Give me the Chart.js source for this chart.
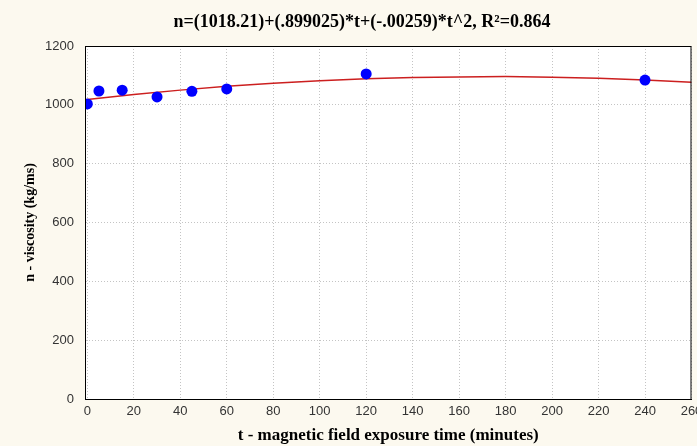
<!DOCTYPE html>
<html>
<head>
<meta charset="utf-8">
<script src="https://cdn.jsdelivr.net/npm/chart.js@4"></script>
<style>
  html, body { margin: 0; padding: 0; background: #fcf9ef; }
  #wrap { width: 697px; height: 446px; }
</style>
</head>
<body>
<div id="wrap"><canvas id="grafico" width="697" height="446"></canvas></div>
<script>
// measured points
const tempos = [0, 5, 15, 30, 45, 60, 120, 240];
const viscosidade = [1003, 1047, 1050, 1027, 1046, 1054, 1105, 1084];

// fitted curve
const curvaT = [0, 20, 40, 60, 80, 100, 120, 140, 160, 180, 200, 220, 240, 260];
const curvaN = [1018, 1035, 1050, 1063, 1073, 1082, 1089, 1093, 1095, 1096, 1094, 1090, 1084, 1077];

const xTicks = [0, 20, 40, 60, 80, 100, 120, 140, 160, 180, 200, 220, 240, 260];
const yTicks = [0, 200, 400, 600, 800, 1000, 1200];

const titulo = "n=(1018.21)+(.899025)*t+(-.00259)*t^2, R\u00B2=0.864";

const serif = "'Liberation Serif', 'Times New Roman', serif";
const sans = "'Liberation Sans', Arial, sans-serif";

const fundo = {
  id: "fundo",
  beforeDraw(chart) {
    const { ctx, chartArea: a } = chart;
    ctx.save();
    ctx.fillStyle = "#fcf9ef";
    ctx.fillRect(0, 0, chart.width, chart.height);
    ctx.fillStyle = "#ffffff";
    ctx.fillRect(a.left, a.top, a.right - a.left, a.bottom - a.top);
    ctx.restore();
  },
  afterDraw(chart) {
    const { ctx, chartArea: a } = chart;
    ctx.save();
    ctx.strokeStyle = "#000";
    ctx.lineWidth = 1;
    ctx.strokeRect(a.left + 0.5, a.top + 0.5, a.right - a.left - 1, a.bottom - a.top);
    // title
    ctx.fillStyle = "#000";
    ctx.font = "bold 18px " + serif;
    ctx.textAlign = "center";
    ctx.textBaseline = "middle";
    ctx.fillText(titulo, 362, 22);
    ctx.restore();
  }
};

new Chart(document.getElementById("grafico"), {
  type: "scatter",
  data: {
    datasets: [
      {
        data: tempos.map((t, i) => ({ x: t, y: viscosidade[i] })),
        backgroundColor: "#0000ff",
        borderWidth: 0,
        pointRadius: 5.5,
        pointHoverRadius: 5.5
      },
      {
        type: "line",
        data: curvaT.map((t, i) => ({ x: t, y: curvaN[i] })),
        borderColor: "#cc1f1f",
        borderWidth: 1.5,
        pointRadius: 0,
        tension: 0,
        fill: false
      }
    ]
  },
  options: {
    responsive: false,
    animation: false,
    layout: { padding: { top: 46, right: 5, bottom: 0, left: 0 } },
    plugins: {
      legend: { display: false },
      tooltip: { enabled: false }
    },
    scales: {
      x: {
        type: "linear",
        min: -1,
        max: 260,
        afterBuildTicks: s => { s.ticks = xTicks.map(v => ({ value: v })); },
        afterFit: s => { s.height = 47; s.paddingRight = 0; s.paddingLeft = 0; },
        grid: { color: "#c4c4c4", drawTicks: false },
        border: { color: "#000", dash: [1, 2] },
        ticks: { padding: 5, color: "#333", font: { family: sans, size: 13 }, maxRotation: 0, autoSkip: false, callback: v => String(v) },
        title: {
          display: true,
          text: "t - magnetic field exposure time (minutes)",
          color: "#000",
          font: { family: serif, size: 17, weight: "bold" },
          padding: { top: 0, bottom: 0 }
        }
      },
      y: {
        min: 0,
        max: 1200,
        afterBuildTicks: s => { s.ticks = yTicks.map(v => ({ value: v })); },
        afterFit: s => { s.width = 85; },
        grid: { color: "#c4c4c4", drawTicks: false },
        border: { color: "#000", dash: [1, 2] },
        ticks: { padding: 11, color: "#333", font: { family: sans, size: 13 }, callback: v => String(v) },
        title: {
          display: true,
          text: "n - viscosity (kg/ms)",
          color: "#000",
          font: { family: serif, size: 14, weight: "bold" },
          padding: { top: 22, bottom: 0 }
        }
      }
    }
  },
  plugins: [fundo]
});
</script>
</body>
</html>
